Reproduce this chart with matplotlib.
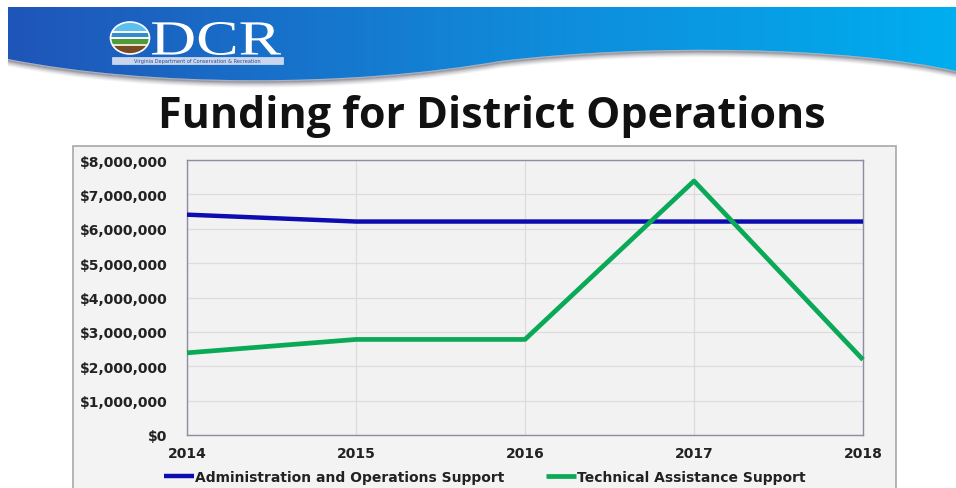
import numpy as np
import matplotlib
matplotlib.use("Agg")
import matplotlib.pyplot as plt
from matplotlib.patches import Rectangle, PathPatch, Ellipse
from matplotlib.path import Path
from matplotlib.textpath import TextPath
from matplotlib.font_manager import FontProperties
from matplotlib.transforms import Affine2D
from matplotlib.ticker import FuncFormatter

# ---- data ----
years = [2014, 2015, 2016, 2017, 2018]
admin_ops = [6410000, 6210000, 6210000, 6210000, 6210000]
tech_assist = [2390000, 2780000, 2780000, 7390000, 2190000]
series_names = ["Administration and Operations Support", "Technical Assistance Support"]
title = "Funding for District Operations"
y_ticks = [0, 1000000, 2000000, 3000000, 4000000, 5000000, 6000000, 7000000, 8000000]

W, H = 956, 489
fig = plt.figure(figsize=(W / 100, H / 100), dpi=100)
fig.patch.set_facecolor("white")

# ---- background / decoration axes in pixel coordinates ----
bg = fig.add_axes([0, 0, 1, 1], zorder=0)
bg.set_xlim(0, W)
bg.set_ylim(H, 0)
bg.axis("off")

# banner shape with wavy bottom
wave = [(W, 72), (850, 48), (650, 44), (500, 62), (350, 88), (150, 88), (8, 60)]
wave_codes = [Path.MOVETO, Path.CURVE4, Path.CURVE4, Path.CURVE4,
              Path.CURVE4, Path.CURVE4, Path.CURVE4]
verts = [(8, 8), (W, 8)] + wave + [(8, 8)]
codes = [Path.MOVETO, Path.LINETO, Path.LINETO] + wave_codes[1:] + [Path.CLOSEPOLY]
banner_path = Path(verts, codes)

# shadow under the wave
for off, a in [(6, 0.06), (5, 0.09), (4, 0.13), (3, 0.2), (2, 0.3), (1, 0.45)]:
    sv = [(x, y + off) for x, y in wave]
    bg.add_patch(PathPatch(Path(sv, wave_codes), facecolor="none",
                           edgecolor="#6a6a78", lw=2, alpha=a, zorder=1))

patch = PathPatch(banner_path, facecolor="none", edgecolor="none", zorder=2)
bg.add_patch(patch)
c_left = np.array([0x1f, 0x55, 0xb8]) / 255.0
c_mid = np.array([0x12, 0x86, 0xd8]) / 255.0
c_right = np.array([0x00, 0xae, 0xef]) / 255.0
n = 400
grad = np.zeros((2, n, 3))
for i in range(n):
    tt = i / (n - 1)
    if tt < 0.5:
        col = c_left + (c_mid - c_left) * (tt / 0.5)
    else:
        col = c_mid + (c_right - c_mid) * ((tt - 0.5) / 0.5)
    grad[:, i, :] = col
im = bg.imshow(grad, extent=[8, W, 95, 8], aspect="auto", zorder=2, interpolation="bilinear")
im.set_clip_path(patch)

# logo ellipse with landscape bands
cx, cy, rw, rh = 130, 39, 39, 32
ell = Ellipse((cx, cy), rw, rh, facecolor="#3ba7e0", edgecolor="none", zorder=3)
bg.add_patch(ell)
top = cy - rh / 2
bands = [(0, 9, "#5cc0ee"), (9, 11, "#ffffff"), (11, 15, "#2f8fc8"), (15, 17, "#ffffff"),
         (17, 22, "#4e9a3c"), (22, 24, "#e8e8c8"), (24, 32, "#7a4a24")]
for y0, y1, col in bands:
    rr = Rectangle((cx - rw / 2, top + y0), rw, y1 - y0, facecolor=col, edgecolor="none", zorder=3)
    bg.add_patch(rr)
    rr.set_clip_path(ell)
bg.add_patch(Ellipse((cx, cy), rw, rh, facecolor="none", edgecolor="white", lw=1.2, zorder=4))

# "DCR" wordmark fitted to its box
tp = TextPath((0, 0), "DCR", size=1, prop=FontProperties(family="Liberation Serif"))
ext = tp.get_extents()
x0, x1, y0, y1 = 152, 281, 23, 56
sx = (x1 - x0) / ext.width
sy = (y1 - y0) / ext.height
tr = Affine2D().translate(-ext.x0, -ext.y0).scale(sx, -sy).translate(x0, y1)
bg.add_patch(PathPatch(tr.transform_path(tp), facecolor="white", edgecolor="none", zorder=4))
bg.add_patch(Rectangle((112, 58), 171, 7, facecolor="#c9d7ee", edgecolor="#eef3fb", lw=0.4, zorder=4))
bg.text(197.5, 61.6, "Virginia Department of Conservation & Recreation", color="#2a4a90",
        fontsize=3.6, ha="center", va="center", zorder=5)

# title
bg.text(492, 116, title, fontsize=31, fontweight="bold", family="Open Sans",
        ha="center", va="center", color="#111111", zorder=4)

# chart area box
bg.add_patch(Rectangle((73, 147), 823, 360, facecolor="#f3f3f3", edgecolor="#a8a8a8",
                       lw=1.2, zorder=1))

# ---- chart axes ----
L, R, T, B = 187, 863, 161, 436
ax = fig.add_axes([L / W, 1 - B / H, (R - L) / W, (B - T) / H], zorder=2)
ax.set_facecolor("#f2f2f2")
ax.plot(years, admin_ops, color="#0c0cb0", lw=3.2, solid_capstyle="butt", clip_on=False,
        label=series_names[0], zorder=3)
ax.plot(years, tech_assist, color="#0aa957", lw=3.4, solid_capstyle="butt", clip_on=False,
        label=series_names[1], zorder=3)
ax.set_xlim(years[0], years[-1])
ax.set_ylim(0, 8000000)
ax.set_xticks(years)
ax.set_yticks(y_ticks)
ax.yaxis.set_major_formatter(FuncFormatter(lambda v, p: "${:,.0f}".format(v)))
ax.grid(True, color="#dcdcdc", lw=0.9, zorder=0)
ax.set_axisbelow(True)
for s in ax.spines.values():
    s.set_color("#8e8ea0")
    s.set_linewidth(1.0)
ax.tick_params(axis="both", length=0, labelsize=10, colors="#222222")
ax.tick_params(axis="y", pad=14)
ax.tick_params(axis="x", pad=8)
for lab in ax.get_xticklabels() + ax.get_yticklabels():
    lab.set_fontweight("bold")

fig.legend(loc="center", bbox_to_anchor=(485 / W, 1 - 478 / H), ncol=2, frameon=False,
           handlelength=2.15, handletextpad=0.1, columnspacing=3.0,
           prop={"weight": "bold", "size": 10}, labelcolor="#222222")

fig.savefig("out.png", dpi=100, facecolor="white")
